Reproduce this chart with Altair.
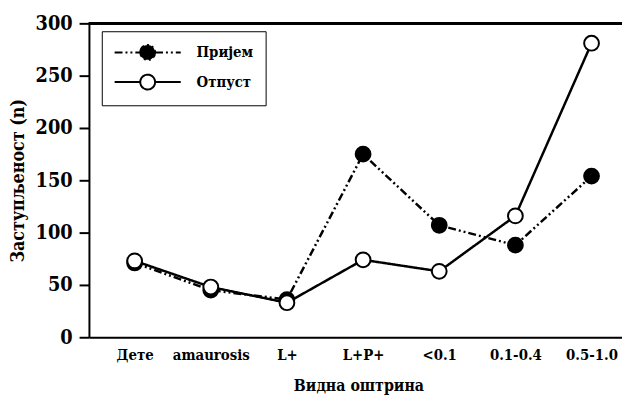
import altair as alt
import pandas as pd

categories = ["Дете", "amaurosis", "L+", "L+P+", "<0.1", "0.1-0.4", "0.5-1.0"]
series_names = ["Пријем", "Отпуст"]
prijem = [71, 45, 36, 175, 107, 88, 154]
otpust = [73, 48, 33, 74, 63, 116, 281]
y_ticks = [0, 50, 100, 150, 200, 250, 300]

rows = []
for name, vals in zip(series_names, [prijem, otpust]):
    for c, v in zip(categories, vals):
        rows.append({"cat": c, "series": name, "value": v})
df = pd.DataFrame(rows)

FONT = "DejaVu Serif Condensed, DejaVu Serif"
SYMBOL = ("M-3.94,0H-0.882M0.882,0H3.94M-0.882,0A0.882,0.882,0,1,1,0.882,0"
          "A0.882,0.882,0,1,1,-0.882,0Z")

legend = alt.Legend(
    orient="none", legendX=13, legendY=8, title=None,
    strokeColor="black", padding=12, fillColor="white",
    symbolType=SYMBOL, symbolSize=289, symbolOffset=25,
    symbolStrokeColor="black", symbolStrokeWidth=2,
    labelFont=FONT, labelFontWeight="bold",
    labelFontSize=15, labelColor="black", labelOffset=40, rowPadding=7,
)

x = alt.X(
    "cat:N", sort=categories,
    scale=alt.Scale(type="point", padding=0.5, align=0.6),
    axis=alt.Axis(
        title="Видна оштрина", labelAngle=0, ticks=False, domainWidth=2,
        domainColor="black", labelPadding=11, labelFontSize=15,
        labelFont=FONT, labelFontWeight="bold", labelColor="black",
        titleFont=FONT, titleFontWeight="bold", titleFontSize=16,
        titleColor="black", titleX=273, titleY=49, titleBaseline="middle",
    ),
)
y = alt.Y(
    "value:Q",
    scale=alt.Scale(domain=[0, 300], nice=False),
    axis=alt.Axis(
        values=y_ticks, title="Заступљеност (n)", tickSize=10, tickWidth=2,
        tickColor="black", domainWidth=2, domainColor="black", grid=False,
        labelFont=FONT, labelFontWeight="bold", labelFontSize=20,
        labelColor="black", labelPadding=7, titleFont=FONT,
        titleFontWeight="bold", titleFontSize=18, titleColor="black",
        titleX=-71, titleY=159, titleAngle=270, titleAlign="center",
        titleBaseline="middle",
    ),
)

base = alt.Chart(df)
lines = base.mark_line(color="black", strokeWidth=2.5).encode(
    x=x, y=y, detail="series:N",
    strokeDash=alt.StrokeDash(
        "series:N",
        scale=alt.Scale(domain=series_names, range=[[8, 3, 2, 3, 2, 3], [1, 0]]),
        legend=legend,
    ),
)
points = base.mark_point(
    shape="circle", filled=True, stroke="black", strokeWidth=2,
    size=225, opacity=1,
).encode(
    x=x, y=y,
    fill=alt.Fill(
        "series:N",
        scale=alt.Scale(domain=series_names, range=["black", "white"]),
        legend=legend,
    ),
)
top = alt.Chart(df).mark_rule(color="black", strokeWidth=2).encode(y=alt.datum(300))

chart = alt.layer(lines, points, top).properties(
    width=540, height=318,
    autosize=alt.AutoSizeParams(type="none"),
    padding={"left": 82, "top": 13, "right": 0, "bottom": 60},
).configure_view(stroke=None).configure(background="white")

chart.save("out.html", embed_options={"renderer": "svg", "actions": False})
